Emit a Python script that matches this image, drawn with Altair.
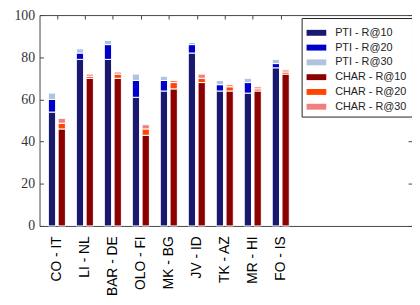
import altair as alt
import pandas as pd

categories = ["CO - IT", "LI - NL", "BAR - DE", "OLO - FI", "MK - BG",
              "JV - ID", "TK - AZ", "MR - HI", "FO - IS"]
pti_r10 = [54, 79, 79, 61, 64, 82, 64, 63, 75]
pti_r20 = [60, 82, 86, 69, 69, 86, 67, 68, 77]
pti_r30 = [63, 84, 88, 72, 71, 87, 69, 70, 79]
char_r10 = [46, 70, 70, 43, 65, 68, 64, 64, 72]
char_r20 = [48.7, 71, 72, 46, 68, 70, 66, 65, 73]
char_r30 = [51, 72, 73, 48, 69, 72, 67, 66, 74]
series_labels = ["PTI - R@10", "PTI - R@20", "PTI - R@30",
                 "CHAR - R@10", "CHAR - R@20", "CHAR - R@30"]
series_colors = ["#191970", "#0000cd", "#b0c4de", "#8b0000", "#ff4500", "#f08080"]

# style constants (bar offset within a category and half-width, in x units)
OFFSET = 0.175
HALF = 0.13

rows = []
for k, cat in enumerate(categories):
    for sys_i, (vals, off) in enumerate([((pti_r10, pti_r20, pti_r30), -OFFSET),
                                         ((char_r10, char_r20, char_r30), OFFSET)]):
        lows = [0, vals[0][k], vals[1][k]]
        highs = [vals[0][k], vals[1][k], vals[2][k]]
        for j in range(3):
            rows.append({
                "cat": cat, "idx": k,
                "xl": k + off - HALF, "xr": k + off + HALF,
                "y0": lows[j], "y1": highs[j],
                "series": series_labels[sys_i * 3 + j],
            })
df = pd.DataFrame(rows)

xdom = [-0.62, 12.69]
label_js = "[" + ",".join("'" + c + "'" for c in categories) + "][datum.value]"

xscale = alt.Scale(domain=xdom, nice=False, zero=False)
yscale = alt.Scale(domain=[0, 100], nice=False)

bars = alt.Chart(df).mark_rect(stroke="white", strokeWidth=1).encode(
    x=alt.X("xl:Q", scale=xscale,
            axis=alt.Axis(values=list(range(len(categories))), labelExpr=label_js,
                          labelAngle=-90, labelFont="Liberation Sans", labelFontSize=14,
                          labelColor="black", labelPadding=10, ticks=False,
                          domain=False, grid=False, title=None)),
    x2="xr:Q",
    y=alt.Y("y0:Q", scale=yscale,
            axis=alt.Axis(values=[0, 20, 40, 60, 80, 100], orient="left", offset=-4,
                          tickSize=4, tickColor="#444", domain=False, grid=False,
                          labelFont="Liberation Serif", labelFontSize=14,
                          labelColor="#333", labelPadding=5, title=None)),
    y2="y1:Q",
    color=alt.Color("series:N",
                    scale=alt.Scale(domain=series_labels, range=series_colors),
                    legend=alt.Legend(title=None, orient="none", legendX=266, legendY=3,
                                      strokeColor="#222", fillColor="white", padding=5,
                                      symbolType="M-1,-0.3H1V0.3H-1Z", symbolSize=400,
                                      symbolStrokeWidth=0, symbolOpacity=1,
                                      labelFont="Liberation Sans", labelFontSize=11,
                                      labelColor="#222", labelOffset=9, rowPadding=-1)),
)

frame_axes = alt.Chart(df).mark_rect(opacity=0).encode(
    x=alt.X("xl:Q", scale=xscale,
            axis=alt.Axis(orient="top", values=list(range(len(categories))), labels=False,
                          offset=-4, tickSize=4, tickColor="#444", domain=False,
                          grid=False, title=None)),
    x2="xr:Q",
    y=alt.Y("y0:Q", scale=yscale,
            axis=alt.Axis(orient="right", values=[0, 20, 40, 60, 80, 100], labels=False,
                          offset=-4, tickSize=4, tickColor="#444", domain=False,
                          grid=False, title=None)),
    y2="y1:Q",
)

chart = alt.layer(bars, frame_axes).resolve_axis(x="independent", y="independent").properties(
    width=378, height=214,
    autosize=alt.AutoSizeParams(type="none"),
    padding={"left": 32, "top": 5, "right": 0, "bottom": 75},
).configure_view(stroke="#444", strokeWidth=1)

chart.save("out.html", embed_options={"renderer": "svg", "actions": False})
